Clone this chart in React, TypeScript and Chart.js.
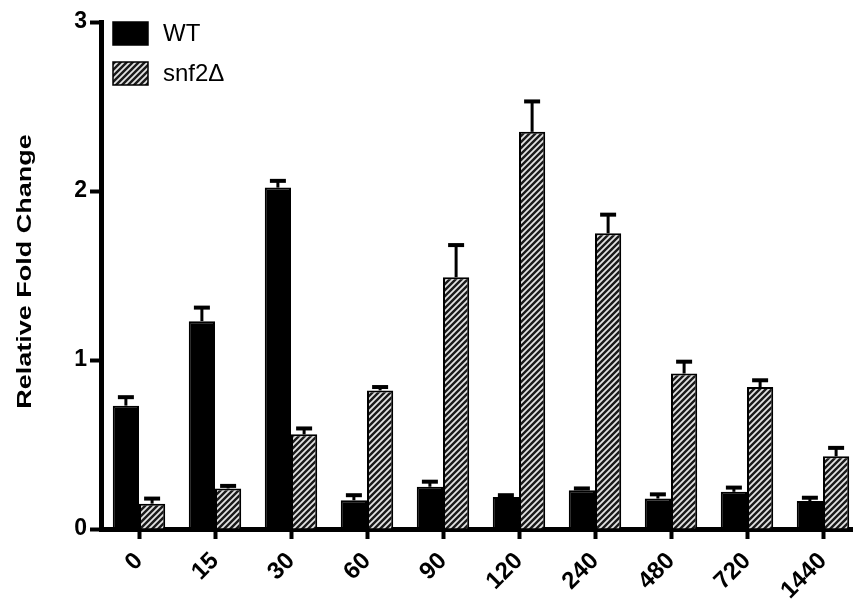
import React, { useEffect, useRef } from "react";
import { Chart, registerables } from "chart.js";
Chart.register(...registerables);

const categories = ["0", "15", "30", "60", "90", "120", "240", "480", "720", "1440"];
const wtValues = [0.73, 1.23, 2.02, 0.17, 0.25, 0.19, 0.23, 0.18, 0.22, 0.165];
const wtErrors = [0.05, 0.08, 0.04, 0.03, 0.03, 0.01, 0.01, 0.025, 0.025, 0.02];
const snfValues = [0.15, 0.24, 0.56, 0.82, 1.49, 2.35, 1.75, 0.92, 0.84, 0.43];
const snfErrors = [0.03, 0.015, 0.035, 0.02, 0.19, 0.18, 0.11, 0.07, 0.04, 0.05];
const seriesLabels = ["WT", "snf2\u0394"];
const yTicks = [0, 1, 2, 3];
const yTitle = "Relative Fold Change";

const FONT = "'Liberation Sans', Arial, Helvetica, sans-serif";

function makeHatch(): CanvasPattern | string {
  const size = 6;
  const c = document.createElement("canvas");
  c.width = size;
  c.height = size;
  const ctx = c.getContext("2d");
  if (!ctx) return "#777";
  ctx.fillStyle = "#1a1a1a";
  ctx.fillRect(0, 0, size, size);
  ctx.strokeStyle = "#e4e4e4";
  ctx.lineWidth = 1.8;
  ctx.beginPath();
  ctx.moveTo(0, size);
  ctx.lineTo(size, 0);
  ctx.moveTo(-2, 2);
  ctx.lineTo(2, -2);
  ctx.moveTo(size - 2, size + 2);
  ctx.lineTo(size + 2, size - 2);
  ctx.stroke();
  const p = ctx.createPattern(c, "repeat");
  return p || "#777";
}

export default function App() {
  const ref = useRef<HTMLCanvasElement>(null);
  useEffect(() => {
    if (!ref.current) return;
    const hatch = makeHatch();
    const errors = [wtErrors, snfErrors];

    const errorBars = {
      id: "errorBars",
      afterDatasetsDraw(chart: any) {
        const ctx = chart.ctx;
        const y = chart.scales.y;
        ctx.save();
        ctx.strokeStyle = "#000";
        chart.data.datasets.forEach((ds: any, di: number) => {
          const meta = chart.getDatasetMeta(di);
          meta.data.forEach((el: any, i: number) => {
            const v = ds.data[i];
            const top = y.getPixelForValue(v + errors[di][i]);
            ctx.lineWidth = 3;
            ctx.beginPath();
            ctx.moveTo(el.x, el.y);
            ctx.lineTo(el.x, top);
            ctx.stroke();
            ctx.lineWidth = 4;
            ctx.beginPath();
            ctx.moveTo(el.x - 8, top);
            ctx.lineTo(el.x + 8, top);
            ctx.stroke();
          });
        });
        ctx.restore();
      },
    };

    const legendAndTitle = {
      id: "legendAndTitle",
      afterDraw(chart: any) {
        const ctx = chart.ctx;
        const a = chart.chartArea;
        ctx.save();
        const x0 = a.left + 12;
        const ys = [a.top, a.top + 40];
        const fills = ["#000", hatch];
        ys.forEach((yy, i) => {
          ctx.fillStyle = fills[i];
          ctx.fillRect(x0, yy, 35, 23);
          ctx.strokeStyle = "#000";
          ctx.lineWidth = 1.5;
          ctx.strokeRect(x0, yy, 35, 23);
          ctx.fillStyle = "#000";
          ctx.font = `24px ${FONT}`;
          ctx.textBaseline = "middle";
          ctx.textAlign = "left";
          ctx.fillText(seriesLabels[i], x0 + 50, yy + 12);
        });
        // y axis title (stretched along its length like the reference)
        ctx.translate(25, (a.top + a.bottom) / 2 - 4);
        ctx.rotate(-Math.PI / 2);
        ctx.scale(1.35, 1);
        ctx.font = `bold 20px ${FONT}`;
        ctx.textAlign = "center";
        ctx.textBaseline = "middle";
        ctx.fillStyle = "#000";
        ctx.fillText(yTitle, 0, 0);
        ctx.restore();
      },
    };

    const chart = new Chart(ref.current, {
      type: "bar",
      data: {
        labels: categories,
        datasets: [
          {
            label: seriesLabels[0],
            data: wtValues,
            backgroundColor: "#000",
            borderColor: "#000",
            borderWidth: 2,
            categoryPercentage: 0.69,
            barPercentage: 1.0,
          },
          {
            label: seriesLabels[1],
            data: snfValues,
            backgroundColor: hatch as any,
            borderColor: "#000",
            borderWidth: 2,
            categoryPercentage: 0.69,
            barPercentage: 1.0,
          },
        ],
      },
      options: {
        responsive: false,
        animation: false,
        layout: { padding: { top: 22, left: 0, right: 9, bottom: 0 } },
        plugins: { legend: { display: false }, tooltip: { enabled: false } },
        scales: {
          x: {
            afterFit(scale: any) {
              scale.height = 70;
            },
            grid: {
              offset: false,
              drawOnChartArea: false,
              drawTicks: true,
              tickLength: 10,
              tickWidth: 4,
              tickColor: "#000",
            },
            border: { display: true, color: "#000", width: 5 },
            ticks: {
              color: "#000",
              font: { family: FONT, size: 24, weight: "bold" },
              minRotation: 45,
              maxRotation: 45,
              padding: 8,
            },
          },
          y: {
            min: 0,
            max: 3,
            afterFit(scale: any) {
              scale.width = 101;
            },
            afterBuildTicks(scale: any) {
              scale.ticks = yTicks.map((v) => ({ value: v }));
            },
            grid: {
              drawOnChartArea: false,
              drawTicks: true,
              tickLength: 11,
              tickWidth: 4,
              tickColor: "#000",
            },
            border: { display: true, color: "#000", width: 5 },
            ticks: {
              color: "#000",
              font: { family: FONT, size: 23, weight: "bold" },
              padding: 3,
            },
            title: { display: false, text: yTitle },
          },
        },
      },
      plugins: [errorBars, legendAndTitle],
    });
    return () => chart.destroy();
  }, []);

  return (
    <div
      style={{
        position: "fixed",
        left: 0,
        top: 0,
        width: 853,
        height: 599,
        overflow: "hidden",
        background: "#fff",
      }}
    >
      <canvas ref={ref} width={870} height={599} style={{ display: "block" }} />
    </div>
  );
}
